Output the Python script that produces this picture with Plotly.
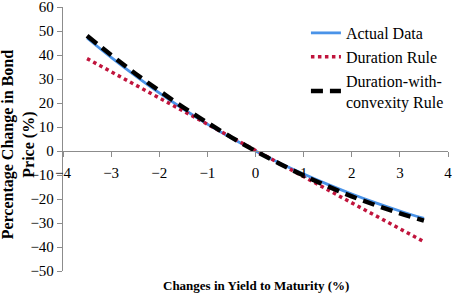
import plotly.graph_objects as go

yield_change = [-3.5, -3.0, -2.5, -2.0, -1.5, -1.0, -0.5, 0.0, 0.5, 1.0, 1.5, 2.0, 2.5, 3.0, 3.5]
actual_data = [47.1, 39.0, 31.4, 24.2, 17.5, 11.2, 5.4, 0.0, -5.0, -9.6, -13.9, -17.9, -21.6, -25.0, -28.1]
duration_rule = [38.5, 33.0, 27.5, 22.0, 16.5, 11.0, 5.5, 0.0, -5.4, -10.8, -16.2, -21.6, -27.0, -32.4, -37.8]
convexity_rule = [48.0, 40.0, 32.3, 25.1, 18.2, 11.8, 5.7, 0.0, -5.3, -10.2, -14.7, -18.9, -22.6, -26.0, -29.0]

FONT = "Liberation Serif"

fig = go.Figure()
fig.add_trace(go.Scatter(x=yield_change, y=actual_data, mode="lines", name="Actual Data",
                         line=dict(color="#4A93E8", width=2.8, shape="spline")))
fig.add_trace(go.Scatter(x=yield_change, y=duration_rule, mode="lines", name="Duration Rule",
                         line=dict(color="#C0143C", width=3.5, dash="dot")))
fig.add_trace(go.Scatter(x=yield_change, y=convexity_rule, mode="lines",
                         name="Duration-with-<br>convexity Rule",
                         line=dict(color="black", width=4.5, dash="12px,7px", shape="spline")))

fig.update_layout(
    width=452, height=294,
    margin=dict(l=63, r=4, t=7, b=23, autoexpand=False),
    plot_bgcolor="white", paper_bgcolor="white",
    font=dict(family=FONT, size=15, color="black"),
    showlegend=True,
    legend=dict(x=0.631, y=0.966, xanchor="left", yanchor="top",
                font=dict(family=FONT, size=16), bgcolor="rgba(0,0,0,0)",
                itemwidth=30),
    xaxis=dict(range=[-4, 4], dtick=1, tick0=-4, showgrid=False, zeroline=False,
               showline=True, linecolor="#8c8c8c", linewidth=1.3,
               ticks="outside", ticklen=5, tickcolor="#8c8c8c",
               anchor="free", position=50/110, ticklabeloverflow="allow",
               automargin=False, ticklabelstandoff=3,
               tickfont=dict(family=FONT, size=15)),
    yaxis=dict(range=[-50, 60], dtick=10, showgrid=False, zeroline=False,
               showline=True, linecolor="#8c8c8c", linewidth=1.3,
               ticks="outside", ticklen=5, tickcolor="#8c8c8c",
               ticklabeloverflow="allow", automargin=False,
               tickfont=dict(family=FONT, size=15)),
)
fig.add_annotation(text="<b>Changes in Yield to Maturity (%)</b>", xref="paper", yref="paper",
                   x=0.5, y=-0.056, xanchor="center", yanchor="middle", showarrow=False,
                   font=dict(family=FONT, size=13))
fig.add_annotation(text="<b>Percentage Change in Bond<br>Price (%)</b>", xref="paper", yref="paper",
                   x=-0.1148, y=0.479, xanchor="center", yanchor="middle", showarrow=False,
                   textangle=-90, font=dict(family=FONT, size=16))

fig.write_html("out.html", config={"displayModeBar": False},
               post_script="document.body.style.margin='0';")
